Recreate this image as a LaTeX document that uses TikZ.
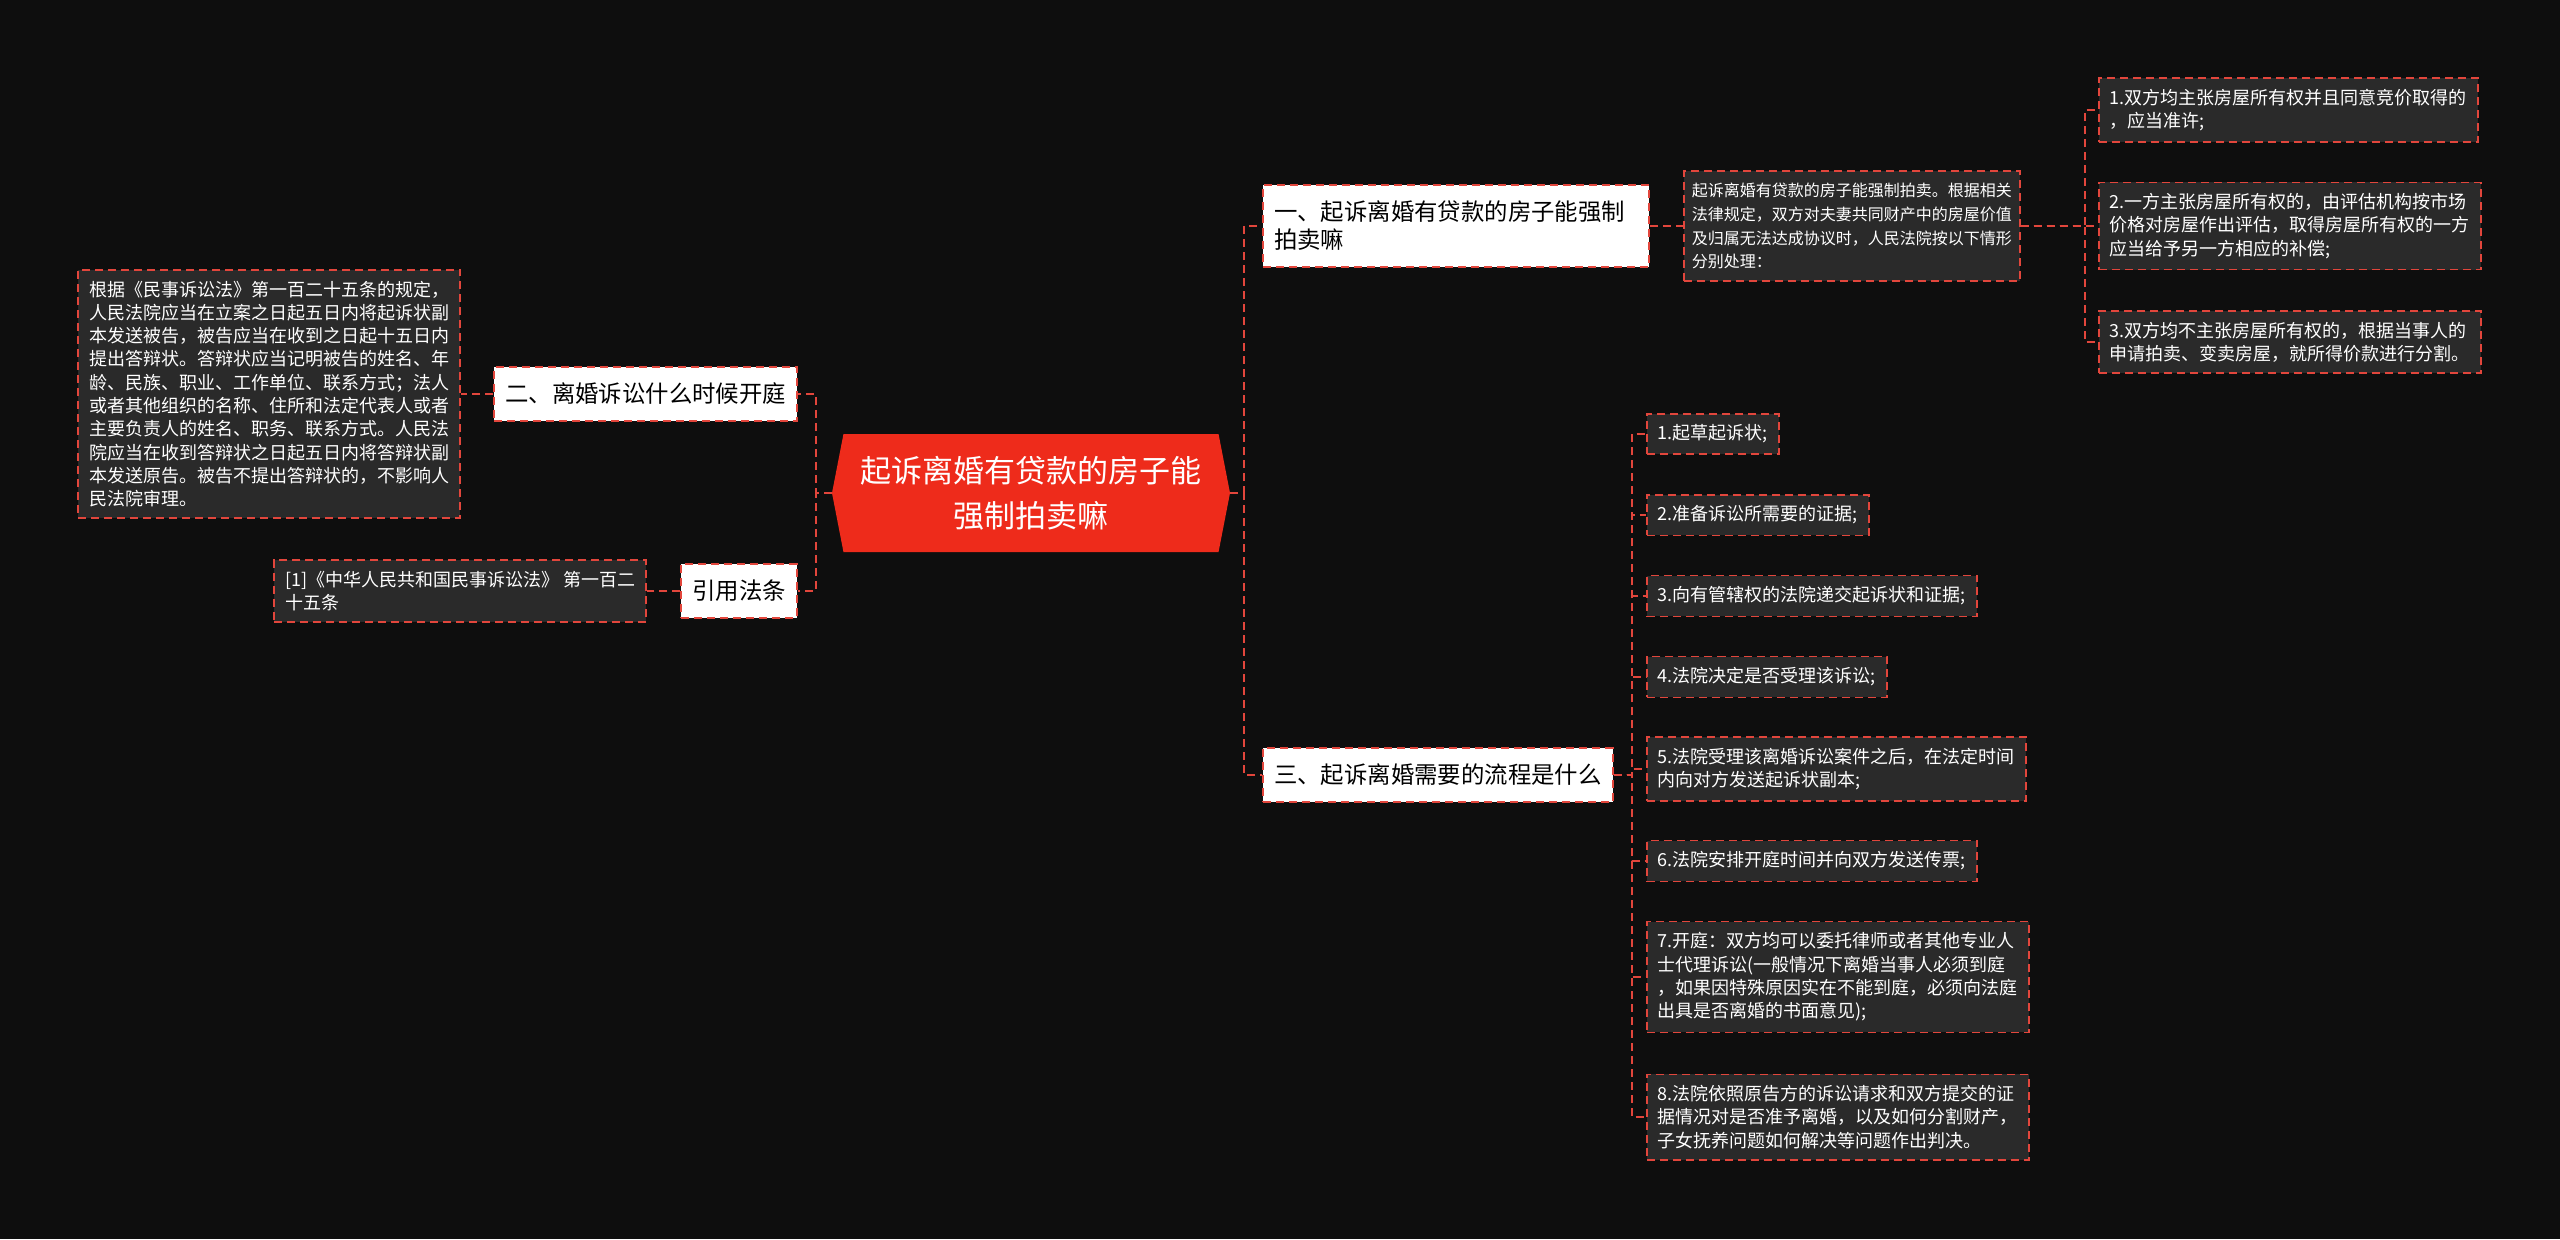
\documentclass[tikz,border=0pt]{standalone}
\usepackage{fontspec}
\setmainfont{Noto Sans CJK SC}
\usetikzlibrary{shapes.symbols}
\definecolor{canvasDark}{HTML}{0E0E0E}
\definecolor{leafGray}{HTML}{2A2A2A}
\definecolor{dashRed}{HTML}{E2463C}
\definecolor{rootRed}{HTML}{EE2B1B}

\begin{document}
\begin{tikzpicture}[
    x=0.5pt,y=-0.5pt,
    root/.style={signal,signal to=east and west,signal pointer angle=158,
                 fill=rootRed,text=white,align=center,inner sep=0pt,
                 minimum width=199pt,minimum height=59pt,
                 font=\fontsize{15.5pt}{22.5pt}\selectfont},
    topic/.style={rectangle,draw=dashRed,fill=white,text=black,
                  line width=1pt,dash pattern=on 4pt off 2.5pt,
                  inner xsep=5.5pt,inner ysep=8pt,align=left,
                  font=\fontsize{11.7pt}{14pt}\selectfont},
    leaf/.style={rectangle,draw=dashRed,fill=leafGray,text=white,
                 line width=0.8pt,dash pattern=on 4pt off 2.5pt,
                 inner xsep=5.5pt,inner ysep=5.5pt,align=left,
                 font=\fontsize{9pt}{11.65pt}\selectfont},
    note/.style={leaf,inner xsep=4pt,inner ysep=6pt,
                 font=\fontsize{8pt}{11.9pt}\selectfont},
    link/.style={draw=dashRed,line width=1pt,dash pattern=on 4pt off 2.5pt}
  ]
  %% canvas
  \fill[canvasDark] (0,0) rectangle (2560,1239);
  %% central topic
  \node[root] (root) at (1031,493) {起诉离婚有贷款的房子能\\强制拍卖嘛};
  %% left branch
  \node[topic,anchor=east] (ask2) at (798,394) {二、离婚诉讼什么时候开庭};
  \node[topic,anchor=east] (ref)  at (798,591) {引用法条};
  \node[leaf,anchor=east] (ans2) at (461,394)
    {根据《民事诉讼法》第一百二十五条的规定，\\
     人民法院应当在立案之日起五日内将起诉状副\\
     本发送被告，被告应当在收到之日起十五日内\\
     提出答辩状。答辩状应当记明被告的姓名、年\\
     龄、民族、职业、工作单位、联系方式；法人\\
     或者其他组织的名称、住所和法定代表人或者\\
     主要负责人的姓名、职务、联系方式。人民法\\
     院应当在收到答辩状之日起五日内将答辩状副\\
     本发送原告。被告不提出答辩状的，不影响人\\
     民法院审理。};
  \node[leaf,anchor=east] (refText) at (647,591)
    {[1]《中华人民共和国民事诉讼法》 第一百二\\十五条};
  \draw[link] (root.west) -- ++(-16,0) |- (ask2.east);
  \draw[link] (root.west) -- ++(-16,0) |- (ref.east);
  \draw[link] (ask2.west) -- (ans2.east);
  \draw[link] (ref.west) -- (refText.east);
  %% right branch: first question
  \node[topic,anchor=west,text width=182pt] (ask1) at (1262,226)
    {一、起诉离婚有贷款的房子能强制\\拍卖嘛};
  \node[note,anchor=west] (ans1) at (1683,226)
    {起诉离婚有贷款的房子能强制拍卖。根据相关\\
     法律规定，双方对夫妻共同财产中的房屋价值\\
     及归属无法达成协议时，人民法院按以下情形\\
     分别处理：};
  \node[leaf,anchor=west] (case1) at (2098,110)
    {1.双方均主张房屋所有权并且同意竞价取得的\\，应当准许;};
  \node[leaf,anchor=west] (case2) at (2098,226)
    {2.一方主张房屋所有权的，由评估机构按市场\\
     价格对房屋作出评估，取得房屋所有权的一方\\
     应当给予另一方相应的补偿;};
  \node[leaf,anchor=west] (case3) at (2098,342)
    {3.双方均不主张房屋所有权的，根据当事人的\\
     申请拍卖、变卖房屋，就所得价款进行分割。};
  \draw[link] (root.east) -- ++(14,0) |- (ask1.west);
  \draw[link] (ask1.east) -- (ans1.west);
  \foreach \k in {1,2,3}
    \draw[link] (ans1.east) -- ++(64,0) |- (case\k.west);
  %% right branch: procedure
  \node[topic,anchor=west] (ask3) at (1262,775) {三、起诉离婚需要的流程是什么};
  \node[leaf,anchor=west] (step1) at (1646,434) {1.起草起诉状;};
  \node[leaf,anchor=west] (step2) at (1646,515) {2.准备诉讼所需要的证据;};
  \node[leaf,anchor=west] (step3) at (1646,596) {3.向有管辖权的法院递交起诉状和证据;};
  \node[leaf,anchor=west] (step4) at (1646,677) {4.法院决定是否受理该诉讼;};
  \node[leaf,anchor=west] (step5) at (1646,769)
    {5.法院受理该离婚诉讼案件之后，在法定时间\\内向对方发送起诉状副本;};
  \node[leaf,anchor=west] (step6) at (1646,861) {6.法院安排开庭时间并向双方发送传票;};
  \node[leaf,anchor=west] (step7) at (1646,977)
    {7.开庭：双方均可以委托律师或者其他专业人\\
     士代理诉讼(一般情况下离婚当事人必须到庭\\
     ，如果因特殊原因实在不能到庭，必须向法庭\\
     出具是否离婚的书面意见);};
  \node[leaf,anchor=west] (step8) at (1646,1117)
    {8.法院依照原告方的诉讼请求和双方提交的证\\
     据情况对是否准予离婚，以及如何分割财产，\\
     子女抚养问题如何解决等问题作出判决。};
  \draw[link] (root.east) -- ++(14,0) |- (ask3.west);
  \foreach \k in {1,...,8}
    \draw[link] (ask3.east) -- ++(18,0) |- (step\k.west);
\end{tikzpicture}
\end{document}
